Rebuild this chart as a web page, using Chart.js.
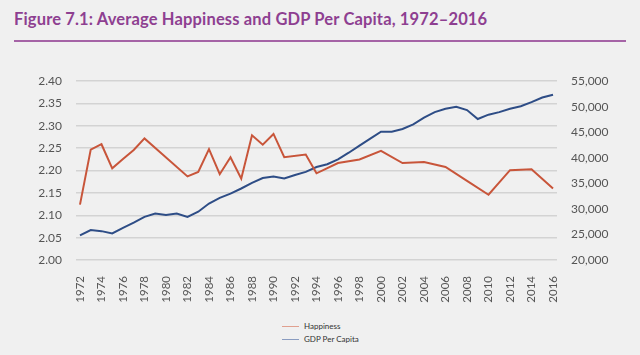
<!DOCTYPE html>
<html>
<head>
<meta charset="utf-8">
<script src="https://cdn.jsdelivr.net/npm/chart.js@4.4.0/dist/chart.umd.min.js"></script>
<style>
  html, body { margin:0; padding:0; background:#f0f0f0; width:640px; height:355px; overflow:hidden; }
  #title { position:absolute; left:14px; top:9px; font-family:Lato, "Open Sans", sans-serif; font-weight:700; font-size:16.5px; color:#8e3f91; white-space:nowrap; letter-spacing:0.15px; }
  #rule { position:absolute; left:14px; top:40px; width:612px; height:2px; background:#a563a6; }
  #wrap { position:absolute; left:0; top:60px; width:640px; height:260px; }
  #legend { position:absolute; left:282px; top:320px; font-family:Lato, sans-serif; font-size:8px; color:#333; }
  #legend div { height:13px; line-height:13px; display:flex; align-items:center; }
  #legend span.sw { display:inline-block; width:17px; height:1px; margin-right:5px; }
</style>
</head>
<body>
<div id="title">Figure 7.1: Average Happiness and GDP Per Capita, 1972–2016</div>
<div id="rule"></div>
<div id="wrap"><canvas id="c" width="640" height="260"></canvas></div>
<div id="legend"></div>
<script>
const years = [1972,1973,1974,1975,1976,1977,1978,1979,1980,1981,1982,1983,1984,1985,1986,1987,1988,1989,1990,1991,1992,1993,1994,1995,1996,1997,1998,1999,2000,2001,2002,2003,2004,2005,2006,2007,2008,2009,2010,2011,2012,2013,2014,2015,2016];
const happiness = [2.124,2.247,2.259,2.205,2.226,2.246,2.272,null,null,null,2.187,2.197,2.248,2.192,2.230,2.182,2.279,2.258,2.282,2.230,null,2.236,2.194,null,2.217,null,2.225,null,2.244,null,2.217,null,2.219,null,2.208,null,2.177,null,2.146,null,2.201,null,2.203,null,2.160];
const gdp = [24800,25850,25650,25200,26300,27300,28450,29100,28800,29100,28450,29450,31050,32150,33000,34000,35100,36050,36350,35950,36650,37250,38200,38750,39700,41000,42400,43750,45100,45100,45650,46550,47850,48950,49600,50000,49350,47600,48450,48950,49600,50100,50900,51800,52350];
const tickYears = [1972,1974,1976,1978,1980,1982,1984,1986,1988,1990,1992,1994,1996,1998,2000,2002,2004,2006,2008,2010,2012,2014,2016];
const seriesNames = ["Happiness","GDP Per Capita"];
const seriesColors = ["#c8553a","#2e4d86"];
const legendColors = ["#e0a08f","#8a9cc0"];

const tickFont = { family: "Lato, 'Open Sans', sans-serif", size: 12 };
const chart = new Chart(document.getElementById('c'), {
  type: 'line',
  data: {
    datasets: [
      { label: seriesNames[0], data: years.map((y,i)=>({x:y, y:happiness[i]})), yAxisID:'y', borderColor: seriesColors[0], backgroundColor: seriesColors[0], borderWidth:2, pointRadius:0, spanGaps:true, tension:0 },
      { label: seriesNames[1], data: years.map((y,i)=>({x:y, y:gdp[i]})), yAxisID:'y2', borderColor: seriesColors[1], backgroundColor: seriesColors[1], borderWidth:2, pointRadius:0, spanGaps:true, tension:0 }
    ]
  },
  options: {
    responsive:false, animation:false,
    layout: { padding: { top: 21, left:0, right:0, bottom:0 } },
    plugins: { legend: { display:false }, tooltip: { enabled:false } },
    scales: {
      x: {
        type:'linear', min:1971.63, max:2016.37,
        afterBuildTicks: s => { s.ticks = tickYears.map(v=>({value:v})); },
        afterFit: s => { s.height = 60; },
        grid: { display:false }, border: { display:false },
        ticks: { autoSkip:false, maxRotation:90, minRotation:90, padding:8, color:'#555', font:{ family: tickFont.family, size:11.5 }, callback: v => String(v) }
      },
      y: {
        position:'left', min:2.0, max:2.4,
        afterFit: s => { s.width = 76; },
        afterBuildTicks: s => { const t=[]; for (let i=0;i<=8;i++) t.push({value: 2.0 + i*0.05}); s.ticks = t; },
        grid: { color:'#d3d3d3', lineWidth:1.5, drawTicks:false }, border: { display:false },
        ticks: { padding:14, color:'#555', font: tickFont, callback: v => Number(v).toFixed(2) }
      },
      y2: {
        position:'right', min:20000, max:55000,
        afterFit: s => { s.width = 83; },
        afterBuildTicks: s => { const t=[]; for (let v=20000; v<=55000; v+=5000) t.push({value:v}); s.ticks = t; },
        grid: { display:false, drawTicks:false }, border: { display:false },
        ticks: { padding:14, color:'#555', font: tickFont, callback: v => Number(v).toLocaleString('en-US') }
      }
    }
  }
});

const lg = document.getElementById('legend');
chart.data.datasets.forEach((ds, i) => {
  const row = document.createElement('div');
  const sw = document.createElement('span'); sw.className='sw'; sw.style.background = legendColors[i];
  row.appendChild(sw); row.appendChild(document.createTextNode(ds.label));
  lg.appendChild(row);
});
</script>
</body>
</html>
